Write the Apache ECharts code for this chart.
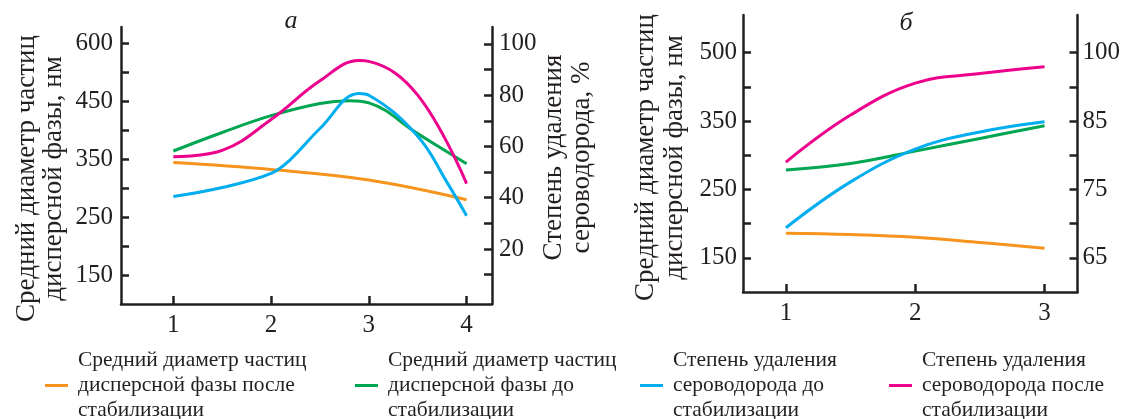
<!DOCTYPE html>
<html>
<head>
<meta charset="utf-8">
<script src="https://cdn.jsdelivr.net/npm/echarts@6/dist/echarts.min.js"></script>
<style>
  html, body { margin: 0; background: #fff; }
  #chart { width: 1123px; height: 419px; }
</style>
</head>
<body>
<div id="chart"></div>
<script>
// Средний диаметр частиц (нм) и степень удаления сероводорода (%) — графики а и б
const FONT = 'Liberation Serif';
const INK = '#231f20';
const NAMES = [
  'Средний диаметр частиц\nдисперсной фазы после\nстабилизации',
  'Средний диаметр частиц\nдисперсной фазы до\nстабилизации',
  'Степень удаления\nсероводорода до\nстабилизации',
  'Степень удаления\nсероводорода после\nстабилизации',
];
const COLORS = ['#f7941d', '#00a651', '#00aeef', '#ec008c'];

// подписи шкал (метки стоят равным шагом, значения неравномерные)
const aLeftLabels = [150, 250, 350, 450, 600];
const aRightLabels = [20, 40, 60, 80, 100];
const bLeftLabels = [150, 250, 350, 500];
const bRightLabels = [65, 75, 85, 100];
const aXLabels = [1, 2, 3, 4];
const bXLabels = [1, 2, 3];

// график а: [x, нм] и [x, %]
const aOrange = [[1, 344], [2, 332], [3, 314], [4, 280]];
const aGreen = [[1, 364], [1.5, 396], [2, 425], [2.5, 446], [2.8, 451], [3, 447], [3.5, 394], [4, 342]];
const aBlue = [[1, 40.5], [1.5, 44], [2, 49.5], [2.2, 55], [2.5, 67], [2.9, 80.7], [3, 80], [3.5, 64], [3.8, 46], [4, 33]];
const aPink = [[1, 56], [1.5, 58.5], [2, 70.5], [2.5, 85.6], [2.9, 93.5], [3, 93.2], [3.5, 80], [4, 45.5]];

// график б
const bOrange = [[1, 186], [1.5, 184], [2, 180], [2.5, 172.5], [3, 164]];
const bGreen = [[1, 278.5], [1.5, 288], [2, 306], [2.5, 324.5], [3, 343]];
const bBlue = [[1, 69.4], [1.5, 76.1], [2, 80.9], [2.5, 83.4], [3, 84.9]];
const bPink = [[1, 79], [1.5, 86.3], [2, 93.3], [2.5, 95.4], [3, 96.9]];

// значение -> позиция на шкале с метками на 1,3,5,...
function toIdx(v, labels) {
  let i = 0;
  while (i < labels.length - 2 && v > labels[i + 1]) i++;
  return 1 + 2 * i + 2 * (v - labels[i]) / (labels[i + 1] - labels[i]);
}
const onIdx = (pts, labels) => pts.map(([x, v]) => [x, toIdx(v, labels)]);
const range = n => Array.from({ length: n }, (_, i) => i + 1);
const labelIdx = labels => labels.map((_, i) => 1 + 2 * i);

const lineStyle = { color: INK, width: 2.5 };
function axis(extra) {
  return Object.assign({
    type: 'value',
    axisLine: { onZero: false, lineStyle },
    splitLine: { show: false },
  }, extra);
}
const labelStyle = { color: INK, fontFamily: FONT, fontSize: 25 };
const nameStyle = { color: INK, fontFamily: FONT, fontSize: 27 };

const chart = echarts.init(document.getElementById('chart'), null, { renderer: 'canvas' });

function line(i, data, xi, yi) {
  return {
    name: NAMES[i], type: 'line', xAxisIndex: xi, yAxisIndex: yi, data,
    smooth: 0.4, showSymbol: false, symbol: 'none',
    lineStyle: { color: COLORS[i], width: 3 }, itemStyle: { color: COLORS[i] },
  };
}

const legendX = [45, 355, 640, 889];

chart.setOption({
  animation: false,
  title: [
    { text: 'а', left: 291, top: 8, textAlign: 'center', padding: 0,
      textStyle: { fontFamily: FONT, fontStyle: 'italic', fontWeight: 'normal', fontSize: 26, color: INK } },
    { text: 'б', left: 906, top: 10, textAlign: 'center', padding: 0,
      textStyle: { fontFamily: FONT, fontStyle: 'italic', fontWeight: 'normal', fontSize: 26, color: INK } },
  ],
  grid: [
    { left: 121, top: 27, width: 371, height: 277 },
    { left: 743, top: 15, width: 335, height: 277 },
  ],
  legend: NAMES.map((n, i) => ({
    data: [n], left: legendX[i], top: 348, padding: 0, selectedMode: false,
    icon: 'rect', itemWidth: 23, itemHeight: 3,
    textStyle: { color: INK, fontFamily: FONT, fontSize: 21.5, lineHeight: 25, padding: [0, 0, 0, 5] },
  })),
  xAxis: [
    axis({ gridIndex: 0, min: 0.465, max: 4.26,
      axisTick: { inside: true, length: 8, lineStyle, customValues: aXLabels },
      axisLabel: Object.assign({ margin: 9, customValues: aXLabels }, labelStyle) }),
    axis({ gridIndex: 1, min: 0.668, max: 3.255,
      axisTick: { inside: true, length: 8, lineStyle, customValues: bXLabels },
      axisLabel: Object.assign({ margin: 9, customValues: bXLabels }, labelStyle) }),
  ],
  yAxis: [
    axis({ gridIndex: 0, position: 'left', min: 0, max: 9.56,
      axisTick: { inside: true, length: 8, lineStyle, customValues: range(9) },
      axisLabel: Object.assign({ margin: 8, customValues: labelIdx(aLeftLabels),
        formatter: v => aLeftLabels[(v - 1) / 2] }, labelStyle),
      name: 'Средний диаметр частиц\nдисперсной фазы, нм', nameLocation: 'middle', nameRotate: 90,
      nameGap: 54, nameTextStyle: Object.assign({ lineHeight: 27, padding: [0, 26, 0, 0] }, nameStyle) }),
    axis({ gridIndex: 0, position: 'right', min: -1.46, max: 106.6,
      axisTick: { inside: true, length: 8, lineStyle, customValues: range(10).map(k => k * 10) },
      axisLabel: Object.assign({ margin: 7, customValues: aRightLabels }, labelStyle),
      name: 'Степень удаления\nсероводорода, %', nameLocation: 'middle', nameRotate: 90,
      nameGap: 45, nameTextStyle: Object.assign({ lineHeight: 28, padding: [0, 0, 0, 16] }, nameStyle) }),
    axis({ gridIndex: 1, position: 'left', min: 0, max: 8.1,
      axisTick: { inside: true, length: 8, lineStyle, customValues: range(7) },
      axisLabel: Object.assign({ margin: 6, customValues: labelIdx(bLeftLabels),
        formatter: v => bLeftLabels[(v - 1) / 2] }, labelStyle),
      name: 'Средний диаметр частиц\nдисперсной фазы, нм', nameLocation: 'middle', nameRotate: 90,
      nameGap: 54, nameTextStyle: Object.assign({ lineHeight: 29, padding: [0, 8, 0, 0] }, nameStyle) }),
    axis({ gridIndex: 1, position: 'right', min: 0, max: 8.1,
      axisTick: { inside: true, length: 8, lineStyle, customValues: range(7) },
      axisLabel: Object.assign({ margin: 5, customValues: labelIdx(bRightLabels),
        formatter: v => bRightLabels[(v - 1) / 2] }, labelStyle) }),
  ],
  series: [
    line(0, onIdx(aOrange, aLeftLabels), 0, 0),
    line(1, onIdx(aGreen, aLeftLabels), 0, 0),
    line(2, aBlue, 0, 1),
    line(3, aPink, 0, 1),
    line(0, onIdx(bOrange, bLeftLabels), 1, 2),
    line(1, onIdx(bGreen, bLeftLabels), 1, 2),
    line(2, onIdx(bBlue, bRightLabels), 1, 3),
    line(3, onIdx(bPink, bRightLabels), 1, 3),
  ],
});
</script>
</body>
</html>
